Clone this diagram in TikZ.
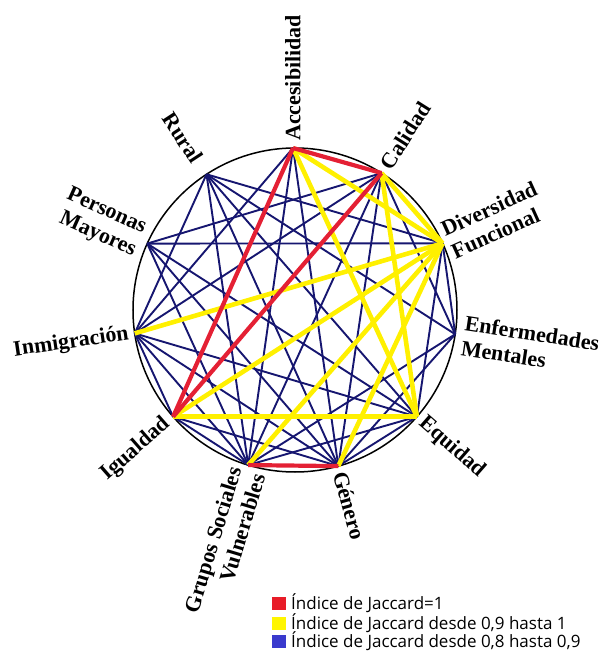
\documentclass[tikz,border=0pt]{standalone}
\usepackage{fontspec}
\setmainfont{Liberation Serif}
\newfontfamily\legendfont{Open Sans}
\definecolor{navy}{RGB}{22,22,112}
\definecolor{yel}{RGB}{255,240,0}
\definecolor{rd}{RGB}{228,32,52}
\definecolor{lgred}{RGB}{232,28,40}
\definecolor{lgyel}{RGB}{255,245,0}
\definecolor{lgblue}{RGB}{58,58,205}
\begin{document}
\begin{tikzpicture}[x=1pt,y=1pt,
  blueedge/.style={draw=navy, line width=1.9pt},
  yeledge/.style={draw=yel, line width=4.6pt},
  rededge/.style={draw=rd, line width=4.2pt},
  lbl/.style={font=\bfseries\fontsize{22}{25}\selectfont, inner sep=0pt},
  lgsq/.style={minimum width=14pt, minimum height=13pt, inner sep=0pt},
  lgtxt/.style={font=\legendfont\fontsize{17}{18}\selectfont, inner sep=0pt, anchor=west}]
\useasboundingbox (-295,-343) rectangle (308,310);
\draw[black, line width=1.5pt] (0,0) circle (162);
\coordinate (A) at (90.7:162);
\coordinate (C) at (57.7:162);
\coordinate (D) at (24.3:162);
\coordinate (E) at (-8.6:162);
\coordinate (Q) at (-41.2:162);
\coordinate (G) at (-74.5:162);
\coordinate (V) at (-106.8:162);
\coordinate (I) at (-138.8:162);
\coordinate (M) at (-171.7:162);
\coordinate (P) at (155.8:162);
\coordinate (R) at (123.1:162);
% blue edges
\foreach \a/\b in {P/D, R/D, D/E, D/Q, C/E, R/E, E/V, E/G, A/M, A/V, A/G,
  C/P, C/M, C/V, C/G, R/G, R/V, R/M, R/Q, P/V, P/G, P/Q, M/I, M/V, M/G, M/Q,
  I/V, I/G, Q/G, Q/V}
  \draw[blueedge] (\a) -- (\b);
% yellow edges
\foreach \a/\b in {A/D, A/Q, C/D, C/Q, D/M, D/I, D/V, D/G, I/Q}
  \draw[yeledge] (\a) -- (\b);
% red edges
\foreach \a/\b in {A/C, A/I, C/I, V/G}
  \draw[rededge] (\a) -- (\b);
% labels
\node[lbl, rotate=90, anchor=west] (lA) at (90.7:169) {Accesibilidad};
\node[lbl, rotate=57.7, anchor=west] (lC) at (57.7:169) {Calidad};
\node[lbl, rotate=24.3, anchor=west, align=left] (lD) at (24.3:167) {Diversidad\\Funcional};
\node[lbl, rotate=-8.6, anchor=west, align=left] (lE) at (-8.6:170) {Enfermedades\\Mentales};
\node[lbl, rotate=-41.2, anchor=west] (lQ) at (-41.2:168) {Equidad};
\node[lbl, rotate=-74.5, anchor=west] (lG) at (-74.5:168) {Género};
\node[lbl, rotate=73.2, anchor=east, align=right] (lV) at (-106.8:168) {Grupos Sociales\\Vulnerables};
\node[lbl, rotate=41.2, anchor=east] (lI) at (-138.8:169) {Igualdad};
\node[lbl, rotate=8.3, anchor=east] (lM) at (-171.7:168) {Inmigración};
\node[lbl, rotate=-24.2, anchor=east, align=right] (lP) at (155.8:170) {Personas\\Mayores};
\node[lbl, rotate=-56.9, anchor=east] (lR) at (123.1:178) {Rural};
% legend
\node[lgsq, fill=lgred] (s1) at (-16,-293.5) {};
\node[lgsq, fill=lgyel] (s2) at (-16,-313) {};
\node[lgsq, fill=lgblue] (s3) at (-16,-331.5) {};
\node[lgtxt] (t1) at (-4,-293.5) {Índice de Jaccard=1};
\node[lgtxt] (t2) at (-4,-313) {Índice de Jaccard desde 0,9 hasta 1};
\node[lgtxt] (t3) at (-4,-331.5) {Índice de Jaccard desde 0,8 hasta 0,9};
\end{tikzpicture}
\end{document}
